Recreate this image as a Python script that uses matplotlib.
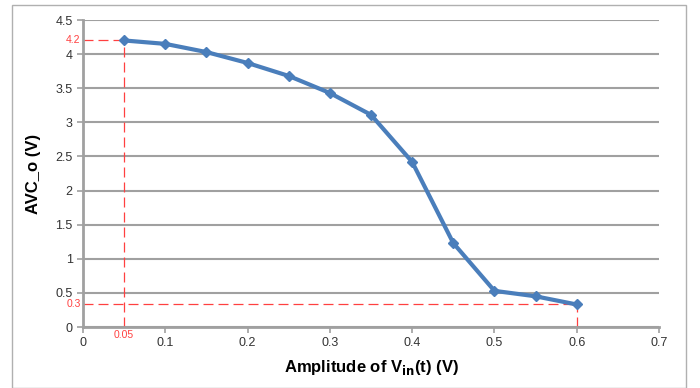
import numpy as np
import matplotlib
matplotlib.use("Agg")
import matplotlib.pyplot as plt
from matplotlib.patches import Rectangle

amplitude = [0.05, 0.1, 0.15, 0.2, 0.25, 0.3, 0.35, 0.4, 0.45, 0.5, 0.55, 0.6]
avc_out = [4.2, 4.15, 4.03, 3.87, 3.68, 3.43, 3.11, 2.42, 1.23, 0.53, 0.45, 0.33]
x_ticks = [0, 0.1, 0.2, 0.3, 0.4, 0.5, 0.6, 0.7]
y_ticks = [0, 0.5, 1, 1.5, 2, 2.5, 3, 3.5, 4, 4.5]
mark_x = 0.05
mark_y = 0.33
mark_top = 4.2
mark_end = 0.6

plt.rcParams["font.family"] = ["Liberation Sans", "DejaVu Sans"]

fig = plt.figure(figsize=(7, 3.88), dpi=100)
fig.patches.append(Rectangle((12 / 700, 0), 674 / 700, 1 - 5 / 388,
                             transform=fig.transFigure, fill=False,
                             edgecolor="#b0b0b0", linewidth=1))
ax = fig.add_axes([83 / 700, 61 / 388, 576 / 700, 307 / 388])

grid_col = "#a0a0a0"
ax.set_xlim(0, 0.7)
ax.set_ylim(0, 4.5)
ax.set_xticks(x_ticks)
ax.set_xticklabels([f"{v:g}" for v in x_ticks])
ax.set_yticks(y_ticks)
ax.set_yticklabels([f"{v:g}" for v in y_ticks])
ax.yaxis.grid(True, color=grid_col, linewidth=1.5)
ax.set_axisbelow(True)
for s in ["top", "right"]:
    ax.spines[s].set_visible(False)
for s in ["left", "bottom"]:
    ax.spines[s].set_color(grid_col)
    ax.spines[s].set_linewidth(2)
ax.tick_params(axis="both", color=grid_col, width=1.2, length=4,
               labelsize=9, labelcolor="#333333")

# red guide lines
red = "#ff4040"
dash = dict(color=red, lw=0.9, linestyle=(0, (8, 4)))
ax.plot([0, mark_x], [mark_top, mark_top], **dash)
ax.plot([mark_x, mark_x], [0, mark_top], **dash)
ax.plot([0, mark_end], [mark_y, mark_y], **dash)
ax.plot([mark_end, mark_end], [0, mark_y], **dash)
ax.text(-0.003, mark_top, "4.2", color=red, fontsize=7.5, ha="right", va="center")
ax.text(-0.003, mark_y, "0.3", color=red, fontsize=7.5, ha="right", va="center")
ax.text(mark_x, -0.12, "0.05", color=red, fontsize=7.5, ha="center", va="center")

ax.plot(amplitude, avc_out, color="#4a7ebb", lw=3, marker="D", markersize=5,
        markerfacecolor="#4a7ebb", markeredgecolor="#4a7ebb", clip_on=False)

ax.set_xlabel("Amplitude of V$_{\\mathbf{in}}$(t) (V)", fontsize=12,
              fontweight="bold", labelpad=6)
ax.set_ylabel("AVC_o (V)", fontsize=12, fontweight="bold", labelpad=10)

fig.savefig("out.png", dpi=100)
